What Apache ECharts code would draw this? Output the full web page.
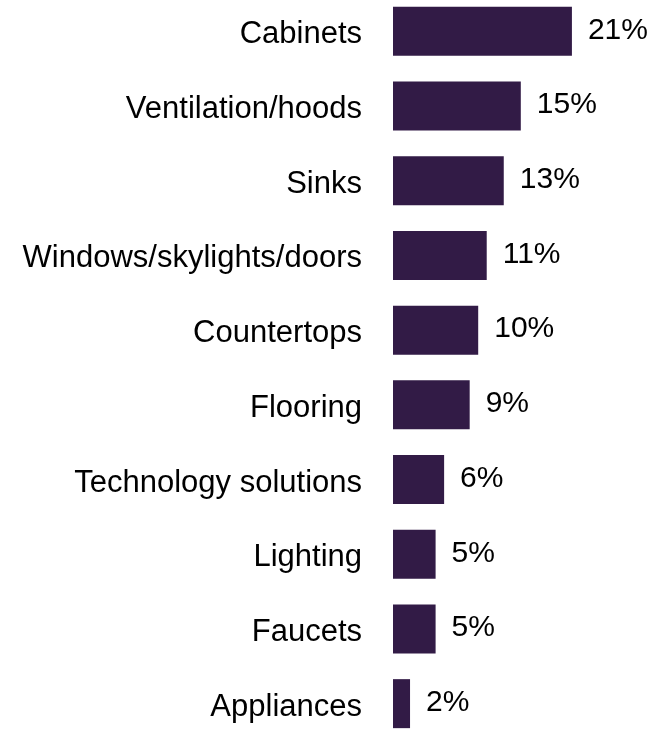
<!DOCTYPE html>
<html>
<head>
<meta charset="utf-8">
<script src="https://cdn.jsdelivr.net/npm/echarts@6/dist/echarts.min.js"></script>
<style>
  html, body { margin: 0; padding: 0; background: #ffffff; overflow: hidden; }
  body { width: 652px; height: 730px; position: relative; }
  /* the plot runs slightly past the top and bottom edges of the page */
  #chart { position: absolute; left: 0; top: -20px; width: 652px; height: 780px; }
</style>
</head>
<body>
<div id="chart"></div>
<script>
// Kitchen features, share of respondents (%), top to bottom
const categories = [
  'Cabinets',
  'Ventilation/hoods',
  'Sinks',
  'Windows/skylights/doors',
  'Countertops',
  'Flooring',
  'Technology solutions',
  'Lighting',
  'Faucets',
  'Appliances'
];
const shares = [21, 15, 13, 11, 10, 9, 6, 5, 5, 2];

const FONT = '"Liberation Sans", Arial, sans-serif';
const chart = echarts.init(document.getElementById('chart'), null, { renderer: 'canvas' });

chart.setOption({
  animation: false,
  backgroundColor: '#ffffff',
  grid: { left: 393, right: 46, top: 14, bottom: 19, containLabel: false },
  xAxis: {
    type: 'value',
    min: 0,
    max: 25,
    show: false
  },
  yAxis: {
    type: 'category',
    inverse: true,
    data: categories,
    axisLine: { show: false },
    axisTick: { show: false },
    splitLine: { show: false },
    axisLabel: {
      margin: 31,
      color: '#000000',
      fontFamily: FONT,
      fontSize: 31,
      // sit the names a few pixels below the bar centres
      verticalAlign: 'top',
      lineHeight: 7
    }
  },
  series: [{
    type: 'bar',
    data: shares,
    barWidth: 49,
    itemStyle: { color: '#321b46' },
    label: {
      show: true,
      position: 'right',
      distance: 16,
      offset: [0, -1],
      color: '#000000',
      fontFamily: FONT,
      fontSize: 30,
      formatter: p => p.value + '%'
    }
  }]
});
</script>
</body>
</html>
